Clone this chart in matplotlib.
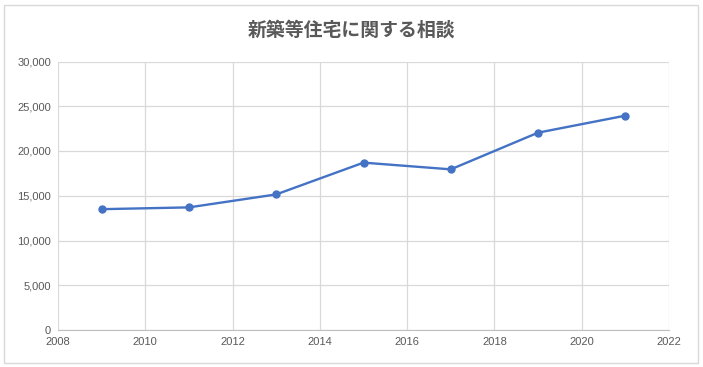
import matplotlib
matplotlib.use("Agg")
import matplotlib.pyplot as plt
from matplotlib.patches import Rectangle
from matplotlib.ticker import FuncFormatter

years = [2009, 2011, 2013, 2015, 2017, 2019, 2021]
values = [13500, 13700, 15150, 18700, 17950, 22050, 23950]
title = "新築等住宅に関する相談"

plt.rcParams['font.family'] = ['Noto Sans CJK JP', 'DejaVu Sans']

fig = plt.figure(figsize=(7.03, 3.67), dpi=100)
ax = fig.add_axes([58/703, 1-330/367, (669-58)/703, (330-61.5)/367])

ax.plot(years, values, color='#4472C4', lw=1.7, marker='o', ms=5, zorder=3)
ax.set_xlim(2008, 2022)
ax.set_ylim(0, 30000)
ax.set_xticks(range(2008, 2023, 2))
ax.set_yticks(range(0, 30001, 5000))
ax.yaxis.set_major_formatter(FuncFormatter(lambda v, p: f"{int(v):,}"))
ax.grid(True, color='#d9d9d9', lw=0.9)
ax.set_axisbelow(True)
for s in ['top', 'right', 'left']:
    ax.spines[s].set_visible(False)
ax.spines['bottom'].set_color('#bfbfbf')
ax.tick_params(length=0, labelsize=8, colors='#595959', pad=5)
for lab in ax.get_xticklabels() + ax.get_yticklabels():
    lab.set_fontfamily(['Liberation Sans', 'DejaVu Sans'])

fig.text(0.5, 1-30/367, title, ha='center', va='center', fontsize=13.6,
         fontweight='bold', color='#595959')
fig.patches.append(Rectangle((4/703, 4/367), 694/703, 358/367, transform=fig.transFigure,
                             fill=False, edgecolor='#d9d9d9', lw=1))
fig.savefig('out.png', dpi=100)
